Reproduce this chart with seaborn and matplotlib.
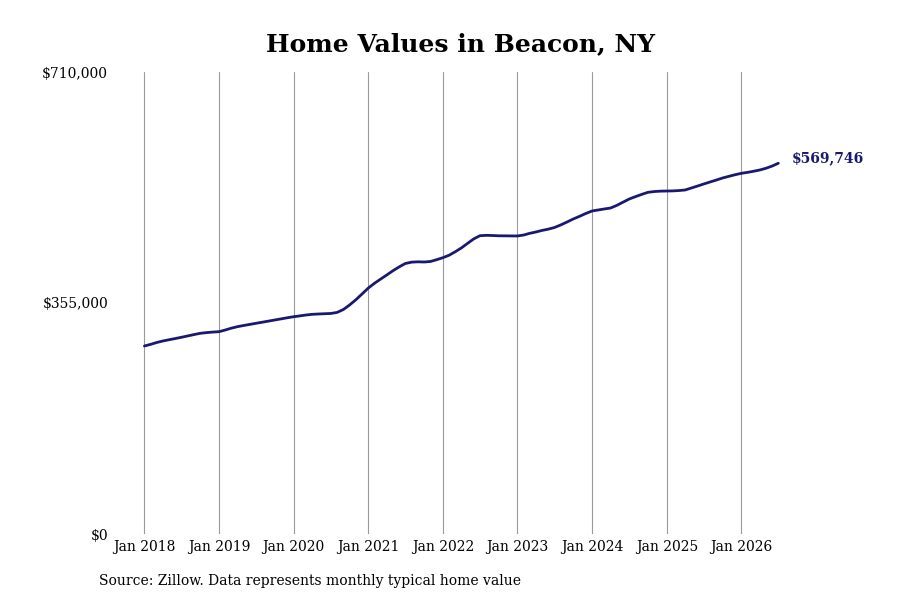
import pandas as pd
import matplotlib
matplotlib.use("Agg")
import matplotlib.pyplot as plt
import matplotlib.ticker as mticker
import matplotlib.dates as mdates
import seaborn as sns

# monthly typical home value, Jan 2018 - Jul 2026
months = pd.date_range("2018-01-01", "2026-07-01", freq="MS")
values = [
    288900, 291500, 294200, 296600, 298500, 300400, 302300, 304400, 306500, 308400, 309500, 310300,
    310900, 313500, 316200, 318600, 320400, 322100, 323800, 325500, 327200, 328900, 330600, 332300,
    333900, 335200, 336500, 337600, 338100, 338500, 338900, 340500, 345000, 351900, 360000, 368800,
    378000, 385500, 391500, 398000, 404500, 410500, 415700, 417800, 418300, 418000, 418800, 421500,
    424600, 428500, 433500, 439500, 446500, 453500, 458400, 459000, 458700, 458300, 458200, 458100,
    458000, 459500, 462000, 464100, 466500, 468500, 471000, 475000, 479500, 484100, 488200, 492500,
    496400, 498000, 499500, 501000, 505000, 510000, 514800, 518500, 522000, 525100, 526300, 526900,
    527100, 527300, 527800, 528700, 531700, 534800, 537900, 541000, 544000, 547100, 549700, 552100,
    554300, 555800, 557400, 559400, 562000, 565500, 569746,
]
y_ticks = [0, 355000, 710000]
title = "Home Values in Beacon, NY"
source = "Source: Zillow. Data represents monthly typical home value"

df = pd.DataFrame({"date": months, "value": values})

sns.set_style("white")
plt.rcParams["font.family"] = ["DejaVu Serif"]
plt.rcParams["text.color"] = "black"

line_color = "#191970"

fig = plt.figure(figsize=(9, 6), dpi=100)
ax = fig.add_axes([115 / 900, 66 / 600, 685 / 900, 462 / 600])

sns.lineplot(data=df, x="date", y="value", ax=ax, color=line_color, linewidth=2)

ax.set_xlim(pd.Timestamp("2017-08-10"), pd.Timestamp("2026-10-15"))
ax.set_ylim(0, 710000)
ax.xaxis.set_major_locator(mdates.YearLocator(month=1, day=1))
ax.xaxis.set_major_formatter(mdates.DateFormatter("Jan %Y"))
ax.set_yticks(y_ticks)
ax.yaxis.set_major_formatter(mticker.FuncFormatter(lambda v, p: f"${v:,.0f}"))
ax.tick_params(axis="both", length=0, labelsize=10, colors="black")
ax.tick_params(axis="y", pad=5)
ax.tick_params(axis="x", pad=4)
ax.grid(axis="x", color="#9a9a9a", linewidth=0.8)
ax.grid(axis="y", visible=False)
for s in ax.spines.values():
    s.set_visible(False)
ax.set_xlabel("")
ax.set_ylabel("")

ax.annotate(f"${values[-1]:,.0f}", xy=(months[-1], values[-1]), xytext=(9.5, 4),
            textcoords="offset points", ha="left", va="center",
            fontsize=10, fontweight="bold", color=line_color)

fig.text(461 / 900, 1 - 44 / 600, title, ha="center", va="center",
         fontsize=18, fontweight="bold", color="black")
fig.text(99 / 900, 1 - 581 / 600, source, ha="left", va="center",
         fontsize=10, color="black")

fig.savefig("out.png", dpi=100, facecolor="white")
